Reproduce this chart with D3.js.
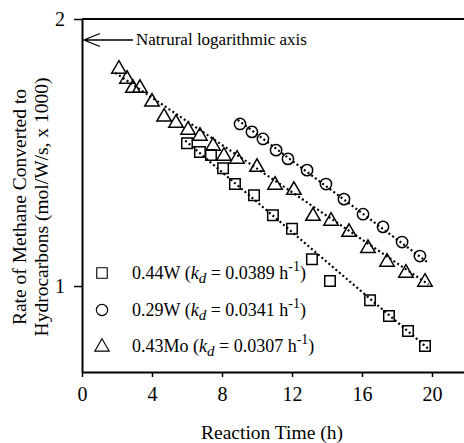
<!DOCTYPE html>
<html><head><meta charset="utf-8">
<script src="https://cdn.jsdelivr.net/npm/d3@7"></script>
<style>body{margin:0;background:#fff}svg{display:block}text{font-family:"Liberation Serif","Times New Roman",serif;fill:#000}</style>
</head><body>
<svg id="c" width="464" height="443"></svg>
<script>
// Data
const xTicks = [0, 4, 8, 12, 16, 20];
const yTicks = [1, 2];

const time44W = [6.0, 6.74, 7.37, 8.06, 8.74, 9.83, 10.91, 12.0, 13.14, 14.17, 16.46, 17.54, 18.63, 19.6];
const rate44W = [1.449, 1.416, 1.405, 1.358, 1.303, 1.266, 1.202, 1.160, 1.072, 1.013, 0.964, 0.925, 0.890, 0.856];

const time29W = [9.03, 9.71, 10.34, 11.09, 11.77, 12.86, 13.94, 14.97, 16.06, 17.2, 18.29, 19.31];
const rate29W = [1.523, 1.492, 1.465, 1.423, 1.391, 1.351, 1.303, 1.253, 1.205, 1.166, 1.121, 1.081];

const time43Mo = [2.11, 2.57, 2.91, 3.31, 4.0, 4.69, 5.37, 6.06, 6.74, 7.49, 8.11, 8.86, 10.0, 11.03, 12.11, 13.2, 14.23, 15.26, 16.34, 17.43, 18.51, 19.6];
const rate43Mo = [1.761, 1.716, 1.676, 1.676, 1.617, 1.555, 1.530, 1.503, 1.480, 1.442, 1.405, 1.394, 1.365, 1.303, 1.286, 1.202, 1.187, 1.153, 1.106, 1.067, 1.037, 1.013];

// first-order deactivation fits: rate = A * exp(-kd * t)
const seriesNames = ["0.44W", "0.29W", "0.43Mo"];
const kdValues = [0.0389, 0.0341, 0.0307];
const kdLabels = ["0.0389", "0.0341", "0.0307"];
const fitA = [1.835, 2.085, 1.844];
const fitStart = [5.9, 8.9, 1.9];
const fitEnd = [19.9, 19.75, 19.8];

const svg = d3.select("#c");
const x = d3.scaleLinear().domain([0, 22]).range([82, 467]);
const y = d3.scaleLog().domain([0.8, 2]).range([372, 19]);

// frame top line
svg.append("line").attr("x1", 82).attr("x2", 464).attr("y1", y(2)).attr("y2", y(2))
  .attr("stroke", "#000").attr("stroke-width", 2);

const xAxis = svg.append("g").attr("transform", `translate(0,${y(0.8)})`)
  .call(d3.axisBottom(x).tickValues(xTicks).tickSize(5).tickSizeOuter(0).tickPadding(10));
const yAxis = svg.append("g").attr("transform", `translate(${x(0)},0)`)
  .call(d3.axisLeft(y).tickValues(yTicks).tickFormat(d3.format("d")).tickSize(8).tickSizeOuter(0).tickPadding(9));
[xAxis, yAxis].forEach(g => {
  g.select(".domain").attr("stroke-width", 2);
  g.selectAll(".tick line").attr("stroke-width", 1.5);
  g.selectAll("text").style("font-family", "Liberation Serif").style("font-size", "20px");
});

// axis titles
svg.append("text").attr("x", 272).attr("y", 439).attr("text-anchor", "middle")
  .style("font-size", "19.5px").text("Reaction Time (h)");
const yt = svg.append("text").attr("transform", "translate(0,207) rotate(-90)")
  .attr("text-anchor", "middle").style("font-size", "19.5px");
yt.append("tspan").attr("x", 0).attr("y", 26).text("Rate of Methane Converted to");
yt.append("tspan").attr("x", 0).attr("y", 48).text("Hydrocarbons (mol/W/s, x 1000)");

// annotation
svg.append("text").attr("x", 136).attr("y", 45).style("font-size", "17px").text("Natrural logarithmic axis");
svg.append("path").attr("d", "M133,40 L84,40 M100,33.5 L84,40 L100,46.5")
  .attr("fill", "none").attr("stroke", "#000").attr("stroke-width", 1.3);

// fit lines
const line = d3.line().x(d => x(d[0])).y(d => y(d[1]));
seriesNames.forEach((n, i) => {
  const pts = d3.range(0, 41).map(k => {
    const t = fitStart[i] + (fitEnd[i] - fitStart[i]) * k / 40;
    return [t, fitA[i] * Math.exp(-kdValues[i] * t)];
  });
  svg.append("path").attr("d", line(pts)).attr("fill", "none")
    .attr("stroke", "#000").attr("stroke-width", 2.2).attr("stroke-dasharray", "2,2.6");
});

// markers
const symbols = [d3.symbolSquare, d3.symbolCircle, d3.symbolTriangle];
const sizes = [110, 100, 90];
const times = [time44W, time29W, time43Mo];
const rates = [rate44W, rate29W, rate43Mo];
seriesNames.forEach((n, i) => {
  svg.append("g").selectAll("path").data(times[i]).join("path")
    .attr("transform", (d, j) => `translate(${x(d)},${y(rates[i][j]) + (i === 2 ? 1 : 0)})`)
    .attr("d", d3.symbol().type(symbols[i]).size(sizes[i]))
    .attr("fill", "none").attr("stroke", "#000").attr("stroke-width", 1.5);
});

// legend
const legY = [273, 310, 346];
seriesNames.forEach((n, i) => {
  svg.append("path").attr("transform", `translate(102,${legY[i] + (i === 2 ? 1 : 0)})`)
    .attr("d", d3.symbol().type(symbols[i]).size(sizes[i]))
    .attr("fill", "none").attr("stroke", "#000").attr("stroke-width", 1.1);
  const t = svg.append("text").attr("x", 132).attr("y", legY[i] + 6).style("font-size", "18px");
  t.append("tspan").text(n + " (");
  t.append("tspan").style("font-style", "italic").text("k");
  t.append("tspan").style("font-style", "italic").style("font-size", "15px").attr("dy", 4).text("d");
  t.append("tspan").attr("dy", -4).text(" = " + kdLabels[i] + " h");
  t.append("tspan").style("font-size", "14px").attr("dy", -8).text("-1");
  t.append("tspan").attr("dy", 8).text(")");
});
</script>
</body></html>
